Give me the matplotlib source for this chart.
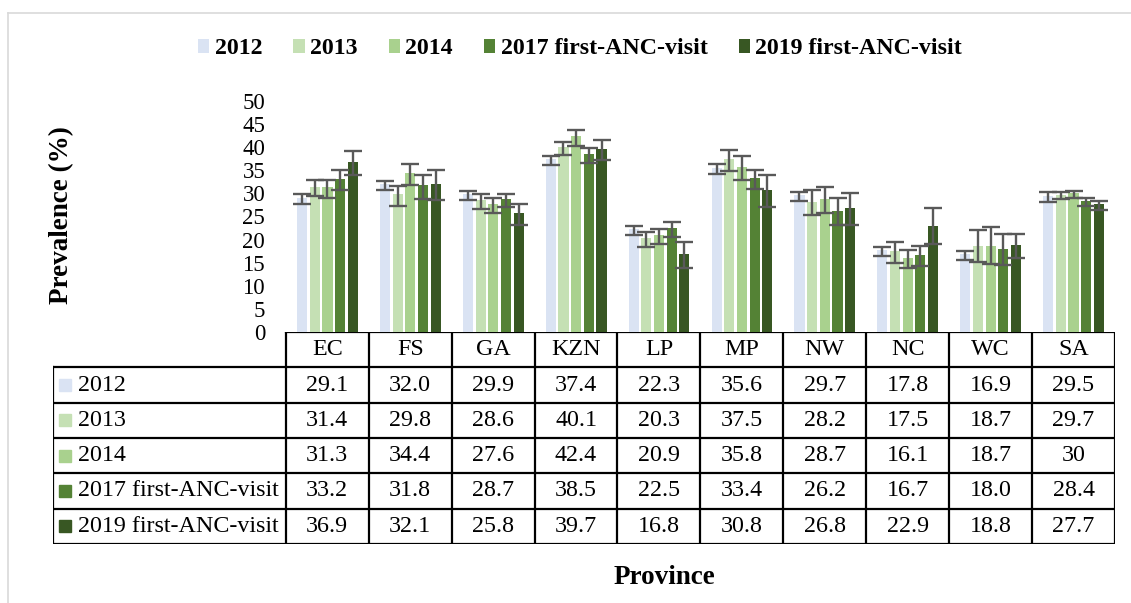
import numpy as np
import matplotlib
matplotlib.use('Agg')
import matplotlib.pyplot as plt
from matplotlib.patches import Patch
from matplotlib.lines import Line2D

provinces = ['EC', 'FS', 'GA', 'KZN', 'LP', 'MP', 'NW', 'NC', 'WC', 'SA']
series = ['2012', '2013', '2014', '2017 first-ANC-visit', '2019 first-ANC-visit']
colors = ['#dae3f3', '#c5e0b4', '#a9d18e', '#548235', '#385723']

# prevalence, as printed in the table
v2012 = ['29.1', '32.0', '29.9', '37.4', '22.3', '35.6', '29.7', '17.8', '16.9', '29.5']
v2013 = ['31.4', '29.8', '28.6', '40.1', '20.3', '37.5', '28.2', '17.5', '18.7', '29.7']
v2014 = ['31.3', '34.4', '27.6', '42.4', '20.9', '35.8', '28.7', '16.1', '18.7', '30']
v2017 = ['33.2', '31.8', '28.7', '38.5', '22.5', '33.4', '26.2', '16.7', '18.0', '28.4']
v2019 = ['36.9', '32.1', '25.8', '39.7', '16.8', '30.8', '26.8', '22.9', '18.8', '27.7']

# 95% CI bounds
lo2012 = [27.8, 30.7, 28.6, 36.1, 21.0, 34.3, 28.4, 16.5, 15.6, 28.1]
hi2012 = [29.8, 32.7, 30.5, 38.1, 22.9, 36.3, 30.4, 18.5, 17.6, 30.2]
lo2013 = [29.4, 27.3, 26.7, 38.4, 18.4, 34.8, 25.3, 14.9, 15.2, 28.7]
hi2013 = [32.8, 31.7, 29.9, 41.1, 21.6, 39.5, 30.7, 19.5, 22.0, 30.2]
lo2014 = [29.0, 31.8, 25.7, 40.3, 19.1, 33.0, 25.7, 13.9, 14.7, 28.9]
hi2014 = [33.0, 36.3, 29.0, 43.8, 22.2, 38.0, 31.3, 17.8, 22.7, 30.5]
lo2017 = [30.8, 28.8, 27.0, 36.6, 20.5, 31.0, 23.2, 14.3, 14.6, 27.3]
hi2017 = [35.1, 34.0, 29.8, 39.8, 23.9, 35.1, 28.9, 18.6, 21.2, 28.9]
lo2019 = [34.0, 28.6, 23.2, 37.2, 13.8, 27.1, 23.2, 19.0, 16.0, 26.4]
hi2019 = [39.2, 35.1, 27.8, 41.5, 19.5, 34.0, 30.0, 26.8, 21.3, 28.4]

values = [v2012, v2013, v2014, v2017, v2019]
lows = [lo2012, lo2013, lo2014, lo2017, lo2019]
highs = [hi2012, hi2013, hi2014, hi2017, hi2019]

font = 'Liberation Serif'
plt.rcParams['font.family'] = [font, 'DejaVu Serif']
fs_tick = 16.5
fs_tab = 17.3
fs_leg = 17.2
fs_lab = 19.5

W, H = 1131, 603
fig = plt.figure(figsize=(W / 100, H / 100), dpi=100)

def fx(px):
    return px / W

def fy(py):
    return 1 - py / H

# outer frame (cut off on right and bottom)
fig.add_artist(Line2D([fx(8), fx(8)], [fy(13), 0], color='#d9d9d9', lw=1.2))
fig.add_artist(Line2D([fx(8), 1], [fy(13), fy(13)], color='#d9d9d9', lw=1.2))

ax = fig.add_axes([fx(286), fy(332), fx(1115) - fx(286), fy(101) - fy(332)])
x = np.arange(len(provinces))
width = 0.122
step = 0.153
for i, (vals, lo, hi) in enumerate(zip(values, lows, highs)):
    v = np.array([float(s) for s in vals])
    pos = x + (i - 2) * step
    ax.bar(pos, v, width, color=colors[i], zorder=2)
    yerr = [v - np.array(lo), np.array(hi) - v]
    ax.errorbar(pos, v, yerr=yerr, fmt='none', ecolor='#595959', elinewidth=1.7,
                capsize=6.5, capthick=1.7, zorder=3)

ax.set_xlim(-0.5, len(provinces) - 0.5)
ax.set_ylim(0, 50)
ax.set_yticks(np.arange(0, 51, 5))
ax.set_xticks([])
ax.tick_params(axis='y', length=0, pad=15, labelsize=fs_tick)
for s in ax.spines.values():
    s.set_visible(False)

fig.text(fx(62), fy(215), 'Prevalence (%)', rotation=90, ha='center', va='center',
         fontsize=fs_lab, fontweight='bold')
fig.text(fx(664), fy(578), 'Province', ha='center', va='center',
         fontsize=fs_lab, fontweight='bold')

# data table under the chart
tab = fig.add_axes([fx(53), fy(544), fx(1115) - fx(53), fy(332) - fy(544)])
left = -0.5 - (286 - 53) / 83
tab.set_xlim(left, len(provinces) - 0.5)
tab.set_ylim(6, 0)
tab.axis('off')
lk = dict(color='black', lw=1.6, solid_capstyle='projecting')
for r in range(7):
    x0 = -0.5 if r == 0 else left
    tab.plot([x0, len(provinces) - 0.5], [r, r], **lk)
for c in range(len(provinces) + 1):
    tab.plot([c - 0.5, c - 0.5], [0, 6], **lk)
tab.plot([left, left], [1, 6], **lk)
for c, p in enumerate(provinces):
    tab.text(c, 0.5, p, ha='center', va='center', fontsize=fs_tab)
for i, (name, vals) in enumerate(zip(series, values)):
    r = i + 1.5
    tab.plot([left + 0.145], [r], marker='s', markersize=8.5, color=colors[i],
             linestyle='none')
    tab.text(left + 0.3, r, name, ha='left', va='center', fontsize=fs_tab)
    for c, s in enumerate(vals):
        tab.text(c, r, s, ha='center', va='center', fontsize=fs_tab)

handles = [Patch(facecolor=c) for c in colors]
fig.legend(handles, series, loc='center', bbox_to_anchor=(fx(580), fy(49)), ncol=5,
           frameon=False, prop={'weight': 'bold', 'size': fs_leg, 'family': font},
           handlelength=0.48, handleheight=0.48, handletextpad=0.22,
           columnspacing=1.3)

fig.savefig('out.png', dpi=100)
